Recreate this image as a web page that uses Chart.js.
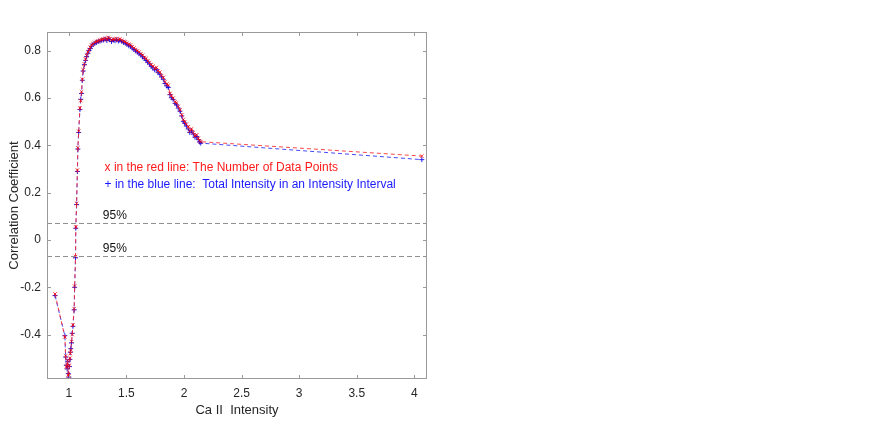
<!DOCTYPE html>
<html>
<head>
<meta charset="utf-8">
<script src="https://cdn.jsdelivr.net/npm/chart.js@4/dist/chart.umd.min.js"></script>
<style>
  html, body { margin: 0; padding: 0; background: #fff; }
  canvas { display: block; }
</style>
</head>
<body>
<canvas id="chart" width="872" height="427"></canvas>
<script>
// Ca II intensity (x) shared by both series
const intensity = [
  0.88, 0.965, 0.972, 0.978, 0.985, 0.99, 0.995, 1.0, 1.005, 1.009,
  1.013, 1.017, 1.023, 1.029, 1.035, 1.046, 1.05, 1.058, 1.06, 1.067,
  1.074, 1.078, 1.085, 1.096, 1.103, 1.11, 1.117, 1.124, 1.135, 1.145,
  1.154, 1.165, 1.175, 1.186, 1.197, 1.21, 1.225, 1.24, 1.255, 1.27,
  1.285, 1.30, 1.315, 1.33, 1.342, 1.355, 1.37, 1.385, 1.40, 1.415,
  1.43, 1.443, 1.46, 1.475, 1.49, 1.505, 1.52, 1.535, 1.55, 1.565,
  1.58, 1.595, 1.61, 1.625, 1.64, 1.655, 1.67, 1.685, 1.70, 1.715,
  1.73, 1.745, 1.76, 1.775, 1.79, 1.805, 1.82, 1.835, 1.85, 1.863,
  1.878, 1.89, 1.905, 1.922, 1.935, 1.95, 1.965, 1.98, 1.994, 2.005,
  2.02, 2.037, 2.05, 2.065, 2.081, 2.095, 2.11, 2.124, 2.135, 2.145,
  4.065
];
// red x: number of data points
const redCorr = [
  -0.228, -0.41, -0.49, -0.535, -0.54, -0.51, -0.57, -0.575, -0.53, -0.50,
  -0.48, -0.465, -0.43, -0.40, -0.36, -0.29, -0.195, -0.07, 0.055, 0.155,
  0.296, 0.39, 0.46, 0.558, 0.59, 0.627, 0.68, 0.72, 0.745, 0.765,
  0.78, 0.795, 0.805, 0.815, 0.825, 0.83, 0.836, 0.84, 0.842, 0.845,
  0.848, 0.85, 0.853, 0.848, 0.857, 0.852, 0.845, 0.85, 0.848, 0.852,
  0.846, 0.85, 0.845, 0.84, 0.838, 0.832, 0.828, 0.825, 0.818, 0.812,
  0.806, 0.80, 0.795, 0.788, 0.782, 0.772, 0.768, 0.758, 0.75, 0.742,
  0.735, 0.725, 0.73, 0.715, 0.71, 0.695, 0.688, 0.67, 0.66, 0.655,
  0.62, 0.61, 0.60, 0.585, 0.58, 0.565, 0.55, 0.53, 0.51, 0.50,
  0.49, 0.479, 0.46, 0.47, 0.455, 0.44, 0.445, 0.43, 0.42, 0.416,
  0.355
];
// blue +: total intensity in an intensity interval
const blueCorr = [
  -0.235, -0.405, -0.495, -0.53, -0.545, -0.515, -0.565, -0.58, -0.535, -0.505,
  -0.475, -0.46, -0.435, -0.395, -0.365, -0.295, -0.2, -0.075, 0.05, 0.15,
  0.29, 0.385, 0.455, 0.552, 0.595, 0.62, 0.676, 0.715, 0.742, 0.76,
  0.776, 0.79, 0.802, 0.81, 0.82, 0.828, 0.832, 0.836, 0.84, 0.841,
  0.845, 0.846, 0.85, 0.844, 0.852, 0.848, 0.84, 0.846, 0.843, 0.847,
  0.842, 0.845, 0.84, 0.836, 0.833, 0.828, 0.822, 0.82, 0.812, 0.806,
  0.80, 0.795, 0.788, 0.783, 0.775, 0.768, 0.76, 0.752, 0.745, 0.735,
  0.728, 0.72, 0.722, 0.708, 0.702, 0.69, 0.68, 0.662, 0.652, 0.645,
  0.615, 0.602, 0.595, 0.578, 0.572, 0.558, 0.545, 0.525, 0.502, 0.495,
  0.482, 0.47, 0.455, 0.462, 0.448, 0.435, 0.438, 0.425, 0.415, 0.41,
  0.34
];

const xTicks = [1, 1.5, 2, 2.5, 3, 3.5, 4];
const yTicks = [-0.4, -0.2, 0, 0.2, 0.4, 0.6, 0.8];
const xRange = [0.81, 4.11];
const yRange = [-0.588, 0.88];
const sigLevel = 0.07; // 95% significance
const noteRed = "x in the red line: The Number of Data Points";
const noteBlue = "+ in the blue line:  Total Intensity in an Intensity Interval";

const FONT = "'Liberation Sans', Arial, Helvetica, sans-serif";

const toPoints = (xs, ys) => xs.map((x, i) => ({ x: x, y: ys[i] }));

// frame, inward ticks and text notes like the MATLAB figure
const decorations = {
  id: "decorations",
  afterDatasetsDraw(chart) {
    const { ctx, chartArea: a, scales: { x, y } } = chart;
    ctx.save();
    ctx.strokeStyle = "#9a9a9a";
    ctx.lineWidth = 1;
    ctx.setLineDash([]);
    ctx.strokeRect(a.left + 0.5, a.top + 0.5, a.right - a.left - 1, a.bottom - a.top - 1);

    const len = 4;
    ctx.beginPath();
    xTicks.forEach(v => {
      const px = Math.round(x.getPixelForValue(v)) + 0.5;
      ctx.moveTo(px, a.bottom); ctx.lineTo(px, a.bottom - len);
      ctx.moveTo(px, a.top); ctx.lineTo(px, a.top + len);
    });
    yTicks.forEach(v => {
      const py = Math.round(y.getPixelForValue(v)) + 0.5;
      ctx.moveTo(a.left, py); ctx.lineTo(a.left + len, py);
      ctx.moveTo(a.right, py); ctx.lineTo(a.right - len, py);
    });
    ctx.stroke();

    ctx.font = "12px " + FONT;
    ctx.textAlign = "left";
    ctx.textBaseline = "bottom";
    ctx.fillStyle = "#111";
    const tx = x.getPixelForValue(1.295);
    ctx.fillText("95%", tx, y.getPixelForValue(sigLevel) - 2);
    ctx.fillText("95%", tx, y.getPixelForValue(-sigLevel) - 2);

    ctx.textBaseline = "middle";
    const nx = x.getPixelForValue(1.31);
    ctx.fillStyle = "#ff1a1a";
    ctx.fillText(noteRed, nx, y.getPixelForValue(0.305));
    ctx.fillStyle = "#1a1aff";
    ctx.fillText(noteBlue, nx, y.getPixelForValue(0.233));
    ctx.restore();
  }
};

new Chart(document.getElementById("chart"), {
  type: "scatter",
  data: {
    datasets: [
      {
        label: "95% upper",
        data: [{ x: xRange[0], y: sigLevel }, { x: xRange[1], y: sigLevel }],
        showLine: true,
        borderColor: "#8c8c8c",
        borderWidth: 1,
        borderDash: [5, 3],
        pointRadius: 0
      },
      {
        label: "95% lower",
        data: [{ x: xRange[0], y: -sigLevel }, { x: xRange[1], y: -sigLevel }],
        showLine: true,
        borderColor: "#8c8c8c",
        borderWidth: 1,
        borderDash: [5, 3],
        pointRadius: 0
      },
      {
        label: "Number of data points",
        data: toPoints(intensity, redCorr),
        showLine: true,
        borderColor: "rgba(255, 40, 40, 0.85)",
        borderWidth: 1,
        borderDash: [4, 3],
        pointStyle: "crossRot",
        pointRadius: 2.5,
        pointBorderColor: "rgba(255, 0, 0, 0.75)",
        pointBorderWidth: 1
      },
      {
        label: "Total intensity",
        data: toPoints(intensity, blueCorr),
        showLine: true,
        borderColor: "rgba(40, 40, 255, 0.85)",
        borderWidth: 1,
        borderDash: [4, 3],
        pointStyle: "cross",
        pointRadius: 2.5,
        pointBorderColor: "rgba(0, 0, 230, 0.85)",
        pointBorderWidth: 1
      }
    ]
  },
  options: {
    responsive: false,
    animation: false,
    layout: { padding: { top: 32, right: 445, left: 0, bottom: 0 } },
    plugins: {
      legend: { display: false },
      tooltip: { enabled: false }
    },
    scales: {
      x: {
        type: "linear",
        min: xRange[0],
        max: xRange[1],
        afterBuildTicks: s => { s.ticks = xTicks.map(v => ({ value: v })); },
        afterFit: s => { s.height = 48; },
        grid: { display: false, drawTicks: false },
        border: { display: false },
        ticks: {
          padding: 7,
          color: "#262626",
          font: { family: FONT, size: 12 },
          callback: v => String(v)
        },
        title: {
          display: true,
          text: "Ca II  Intensity",
          color: "#262626",
          font: { family: FONT, size: 13 },
          padding: { top: 0, bottom: 9 }
        }
      },
      y: {
        type: "linear",
        min: yRange[0],
        max: yRange[1],
        afterBuildTicks: s => { s.ticks = yTicks.map(v => ({ value: v })); },
        afterFit: s => { s.width = 47; },
        grid: { display: false, drawTicks: false },
        border: { display: false },
        ticks: {
          padding: 6,
          color: "#262626",
          font: { family: FONT, size: 12 },
          callback: v => String(Math.round(v * 10) / 10)
        },
        title: {
          display: true,
          text: "Correlation Coefficient",
          color: "#262626",
          font: { family: FONT, size: 13 },
          padding: { top: 7, bottom: 0 }
        }
      }
    }
  },
  plugins: [decorations]
});
</script>
</body>
</html>
